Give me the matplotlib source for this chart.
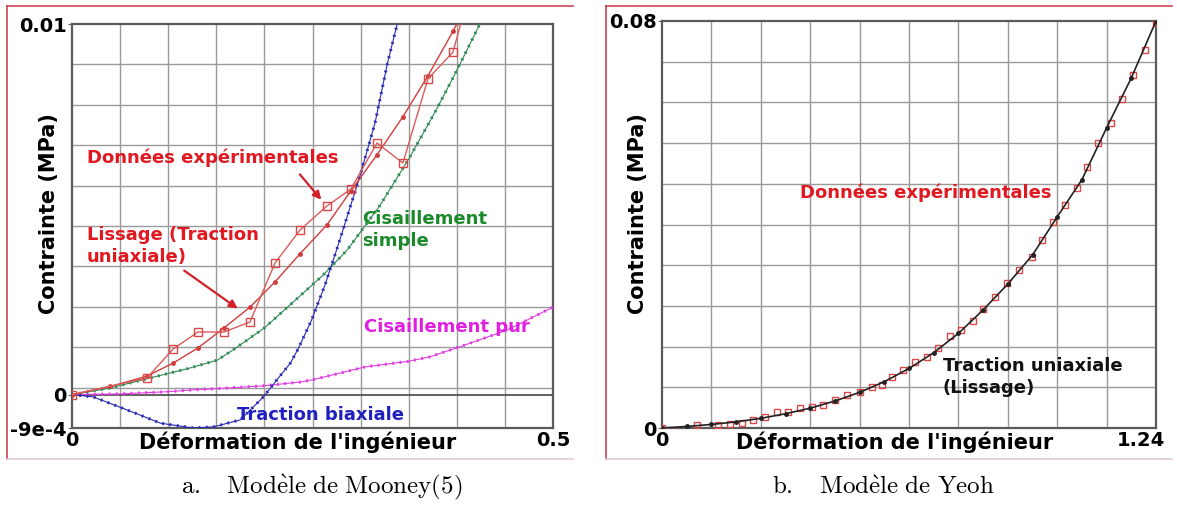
import numpy as np
import matplotlib.pyplot as plt
import matplotlib.transforms as mtransforms
from matplotlib.lines import Line2D

plt.rcParams['font.family'] = 'DejaVu Sans'
plt.rcParams['mathtext.fontset'] = 'cm'

# --- panel a : Mooney (5) ---
exp_x = [0, 0.078, 0.105, 0.131, 0.158, 0.185, 0.211, 0.237, 0.265, 0.29, 0.317, 0.344, 0.37, 0.396, 0.423]
exp_y = [0, 0.00045, 0.00123, 0.00169, 0.00169, 0.00196, 0.00355, 0.00444, 0.00509, 0.00555,
         0.00679, 0.00625, 0.00852, 0.00924, 0.0118]

fit_x = [0, 0.04, 0.078, 0.105, 0.131, 0.158, 0.185, 0.211, 0.237, 0.265, 0.29, 0.317, 0.344, 0.37, 0.396, 0.41]
fit_y = [0, 0.00022, 0.0005, 0.00085, 0.00126, 0.0018, 0.00236, 0.00304, 0.0038, 0.00458, 0.0055,
         0.00647, 0.0075, 0.0086, 0.0098, 0.0105]

simple_x = [0, 0.04, 0.081, 0.12, 0.151, 0.167, 0.2, 0.23, 0.26, 0.286, 0.32, 0.351, 0.379, 0.401, 0.424, 0.44]
simple_y = [0, 0.00018, 0.00045, 0.0007, 0.00093, 0.0012, 0.0018, 0.0025, 0.0032, 0.0039, 0.0051,
            0.0064, 0.0077, 0.0088, 0.0100, 0.0108]

pur_x = [0, 0.05, 0.1, 0.126, 0.15, 0.2, 0.237, 0.25, 0.305, 0.35, 0.372, 0.403, 0.452, 0.5]
pur_y = [0, 0.00002, 0.00008, 0.00013, 0.00016, 0.00024, 0.00034, 0.0004, 0.00075, 0.0009,
         0.00102, 0.00129, 0.00174, 0.00236]

biax_x = [0, 0.022, 0.057, 0.092, 0.126, 0.147, 0.175, 0.199, 0.213, 0.227, 0.235, 0.249, 0.263,
          0.276, 0.299, 0.315, 0.328, 0.34]
biax_y = [0, -0.00006, -0.00041, -0.00077, -0.0009, -0.00087, -0.00068, -0.00006, 0.0004, 0.00085,
          0.00123, 0.00201, 0.00296, 0.00398, 0.00587, 0.00733, 0.00895, 0.0102]

# --- panel b : Yeoh ---
yeoh_exp_x = [0, 0.028, 0.088, 0.141, 0.171, 0.201, 0.228, 0.258, 0.289, 0.316, 0.346, 0.376, 0.404,
              0.434, 0.464, 0.497, 0.527, 0.552, 0.577, 0.605, 0.635, 0.665, 0.693, 0.723, 0.75,
              0.781, 0.806, 0.836, 0.866, 0.896, 0.929, 0.954, 0.981, 1.012, 1.042, 1.067, 1.095,
              1.127, 1.155, 1.182, 1.212, 1.24]
yeoh_exp_y = [0, -0.0008, 0.0006, 0.0006, 0.0008, 0.001, 0.0016, 0.0022, 0.0031, 0.0031, 0.0039,
              0.0041, 0.0045, 0.0055, 0.0065, 0.0071, 0.0081, 0.0085, 0.01, 0.0114, 0.013, 0.014,
              0.0157, 0.0181, 0.0193, 0.021, 0.0234, 0.0257, 0.0285, 0.031, 0.0336, 0.037, 0.0405,
              0.0438, 0.0472, 0.0513, 0.056, 0.06, 0.0647, 0.0694, 0.0743, 0.0796]

yeoh_fit_x = [0, 0.062, 0.124, 0.186, 0.248, 0.31, 0.372, 0.434, 0.496, 0.558, 0.62, 0.682, 0.744,
              0.806, 0.868, 0.93, 0.992, 1.054, 1.116, 1.178, 1.24]
yeoh_fit_y = [0, 0.0003, 0.0007, 0.0012, 0.0019, 0.0028, 0.0039, 0.0053, 0.007, 0.0091, 0.0117,
              0.0148, 0.0186, 0.0232, 0.0283, 0.034, 0.0415, 0.0488, 0.059, 0.0688, 0.08]

W, H = 1177, 507
fig = plt.figure(figsize=(W / 100, H / 100), dpi=100)


def px_rect(x0, y0, x1, y1):
    return [x0 / W, 1 - y1 / H, (x1 - x0) / W, (y1 - y0) / H]


def frame(x0, y0, x1, y1):
    red = '#cc4650'
    fig.add_artist(Line2D([x0 / W, x1 / W], [1 - y0 / H, 1 - y0 / H], color=red, lw=1.2))
    fig.add_artist(Line2D([x0 / W, x0 / W], [1 - y0 / H, 1 - y1 / H], color=red, lw=1.2))
    fig.add_artist(Line2D([x0 / W, x1 / W], [1 - y1 / H, 1 - y1 / H], color='#e2cccc', lw=1.2))


def style(ax, xmax, ymin, ymax, xt, xtl, yt, ytl):
    ax.set_xlim(0, xmax)
    ax.set_ylim(ymin, ymax)
    ax.set_xticks(np.linspace(0, xmax, 11), minor=True)
    ax.set_yticks(np.linspace(ymin, ymax, 11), minor=True)
    ax.grid(which='minor', color='#9a9a9a', lw=1)
    ax.set_xticks(xt)
    ax.set_xticklabels(xtl, fontsize=14, fontweight='bold')
    ax.set_yticks(yt)
    ax.set_yticklabels(ytl, fontsize=14, fontweight='bold')
    ax.tick_params(which='minor', length=0)
    ax.tick_params(axis='x', which='major', length=0, pad=2)
    ax.tick_params(axis='y', which='major', length=3, pad=1, color='#666666')
    for s in ax.spines.values():
        s.set_color('#5a5a5a')
        s.set_linewidth(1.6)
    ax.set_axisbelow(True)


def dotted(ax, x, y, color, zorder=3):
    ax.plot(x, y, color=color, lw=0.8, zorder=zorder)
    ax.plot(x, y, color=color, lw=2.2, ls=(0, (0.6, 1.8)), zorder=zorder)


frame(7, 6, 573, 459)
frame(606, 6, 1172, 459)

# panel a
ax1 = fig.add_axes(px_rect(72, 24, 553, 428))
style(ax1, 0.5, -0.0009, 0.01, [0, 0.5], ['0', '0.5'], [-0.0009, 0, 0.01], ['-9e-4', '0', '0.01'])
ax1.axhline(0, color='#444444', lw=1.2, zorder=2)
dotted(ax1, pur_x, pur_y, '#e23ce2')
dotted(ax1, simple_x, simple_y, '#2e8a52')
dotted(ax1, biax_x, biax_y, '#2a2ab4')
ax1.plot(fit_x, fit_y, color='#d23c3c', lw=1, marker='o', ms=2.5, zorder=4)
ax1.plot(exp_x, exp_y, color='#dc5a5a', lw=1, marker='s', ms=5.5, mfc='none', mec='#d84848', mew=1,
         zorder=4)

ax1.text(0.0156, 0.00638, 'Données expérimentales', color='#e01820', fontsize=13, fontweight='bold',
         ha='left', va='center')
ax1.annotate('', xy=(0.261, 0.0052), xytext=(0.235, 0.0060),
             arrowprops=dict(arrowstyle='-|>', color='#d42028', lw=1.6, mutation_scale=12))
ax1.text(0.0156, 0.0040, 'Lissage (Traction\nuniaxiale)', color='#e01820', fontsize=13,
         fontweight='bold', ha='left', va='center', linespacing=1.3)
ax1.annotate('', xy=(0.1746, 0.00228), xytext=(0.1143, 0.00339),
             arrowprops=dict(arrowstyle='-|>', color='#d42028', lw=1.6, mutation_scale=12))
ax1.text(0.3015, 0.00444, 'Cisaillement\nsimple', color='#1a8a2a', fontsize=13, fontweight='bold',
         ha='left', va='center', linespacing=1.3)
ax1.text(0.3035, 0.00182, 'Cisaillement pur', color='#e020e0', fontsize=13, fontweight='bold',
         ha='left', va='center')
ax1.text(0.1715, -0.00055, 'Traction biaxiale', color='#2020c0', fontsize=13, fontweight='bold',
         ha='left', va='center')

# panel b
ax2 = fig.add_axes(px_rect(662, 21, 1156, 428))
style(ax2, 1.24, 0, 0.08, [0, 1.24], ['0', '1.24'], [0, 0.08], ['0', '0.08'])
last = ax2.get_xticklabels()[-1]
last.set_horizontalalignment('right')
last.set_transform(last.get_transform() + mtransforms.ScaledTranslation(0.09, 0, fig.dpi_scale_trans))
ax2.plot(yeoh_exp_x, yeoh_exp_y, ls='none', marker='s', ms=5, mfc='none', mec='#d84848', mew=1,
         zorder=3)
ax2.plot(yeoh_fit_x, yeoh_fit_y, color='#222222', lw=1.2, marker='o', ms=2.5, zorder=4)
ax2.text(0.346, 0.0462, 'Données expérimentales', color='#e01820', fontsize=13, fontweight='bold',
         ha='left', va='center')
ax2.text(0.705, 0.0100, 'Traction uniaxiale\n(Lissage)', color='#111111', fontsize=13,
         fontweight='bold', ha='left', va='center', linespacing=1.3)

# axis labels and captions
for cx, cy in [(298, 442), (895, 442)]:
    fig.text(cx / W, 1 - cy / H, "Déformation de l'ingénieur", fontsize=15, fontweight='bold',
             ha='center', va='center')
for cx in [49, 638]:
    fig.text(cx / W, 1 - 214 / H, 'Contrainte (MPa)', fontsize=15, fontweight='bold',
             ha='center', va='center', rotation=90)

fig.text(322 / W, 1 - 487 / H, r'$\mathrm{a.\quad Mod\grave{e}le\ de\ Mooney(5)}$', fontsize=18,
         ha='center', va='center')
fig.text(883 / W, 1 - 487 / H, r'$\mathrm{b.\quad Mod\grave{e}le\ de\ Yeoh}$', fontsize=18,
         ha='center', va='center')

fig.savefig('out.png', dpi=100)
